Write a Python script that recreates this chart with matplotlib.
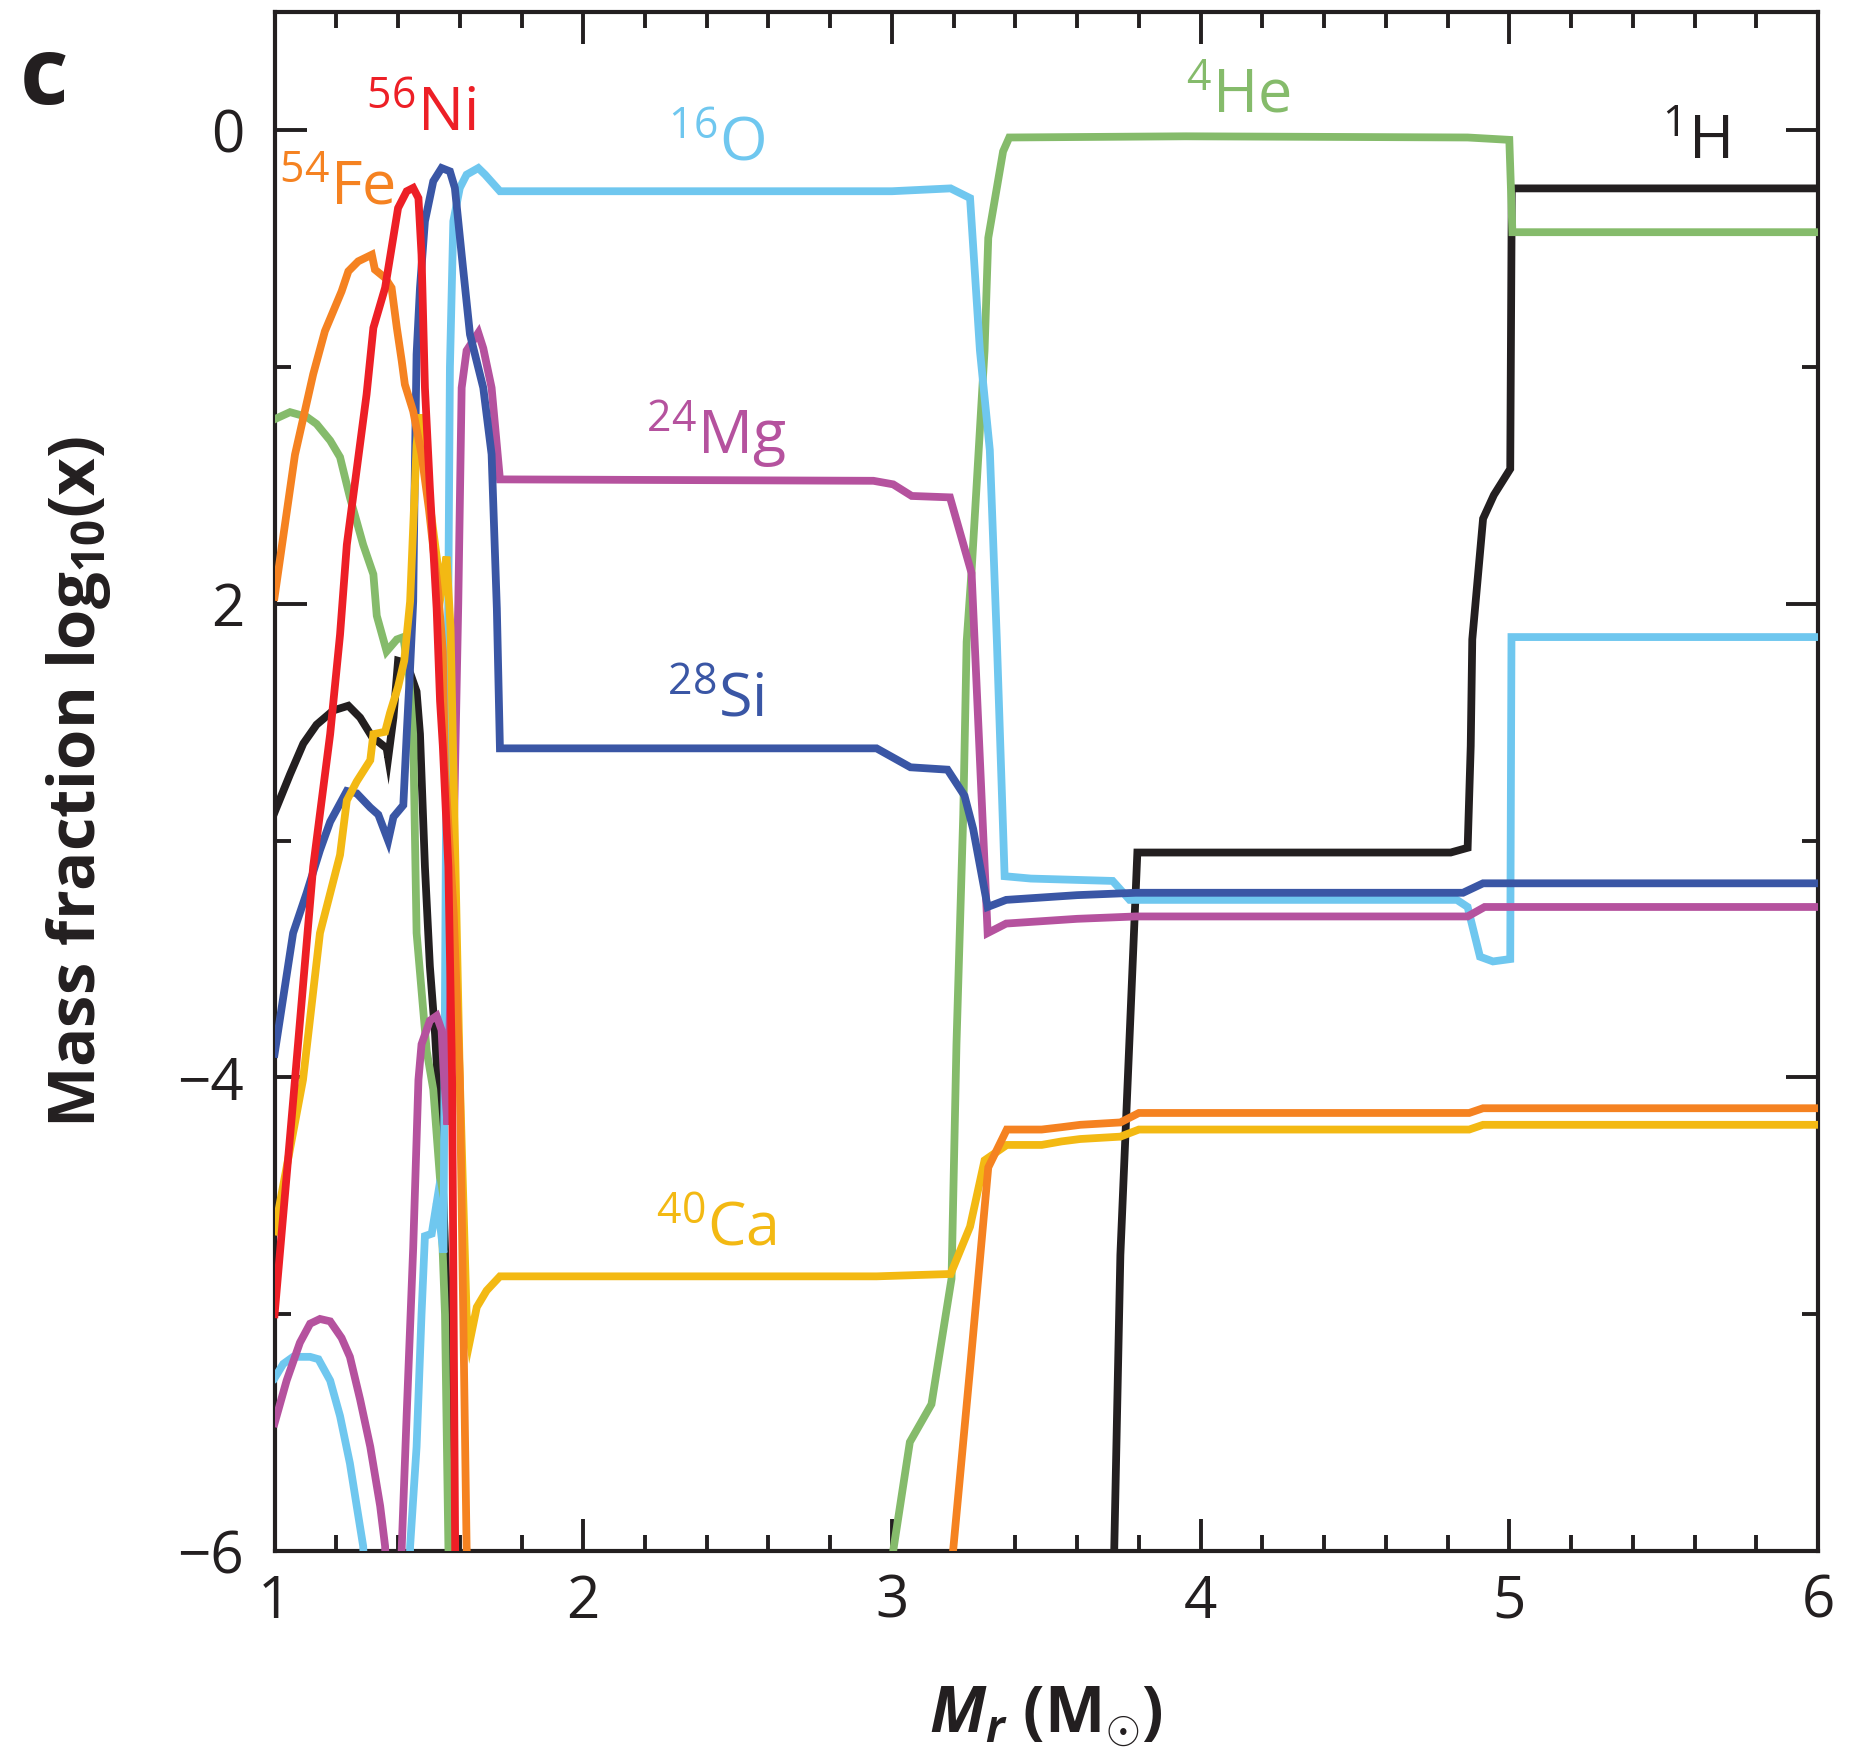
import numpy as np
import matplotlib
import matplotlib.pyplot as plt
from matplotlib.ticker import FixedLocator, MultipleLocator

matplotlib.use("Agg")

nan = np.nan

# Mass coordinate (Msun) and log10 mass fraction
h1_x = [1.0, 1.05, 1.093, 1.136, 1.19, 1.239, 1.277, 1.315, 1.363, 1.368, 1.385, 1.40,
        1.428, 1.46, 1.471, 1.487, 1.503, 1.52, 1.53, 1.541, 1.557, 1.568, 1.575, nan,
        3.715, 3.72, 3.74, 3.795, 4.81, 4.865, 4.875, 4.88, 4.915, 4.95, 5.003, 5.008, 6.0]
h1_y = [-2.88, -2.72, -2.59, -2.51, -2.45, -2.43, -2.48, -2.56, -2.61, -2.65, -2.48, -2.24,
        -2.25, -2.37, -2.55, -3.11, -3.53, -3.82, -4.05, -4.3, -4.9, -5.98, -6.3, nan,
        -6.3, -6.0, -4.75, -3.05, -3.05, -3.03, -2.6, -2.15, -1.64, -1.54, -1.43, -0.245, -0.245]

he4_x = [1.0, 1.05, 1.104, 1.136, 1.18, 1.212, 1.244, 1.287, 1.32, 1.331, 1.363, 1.396,
         1.417, 1.435, 1.449, 1.46, 1.493, 1.514, 1.536, 1.552, 1.563, 1.57, nan,
         3.0, 3.004, 3.058, 3.128, 3.193, 3.209, 3.231, 3.242, 3.258, 3.30, 3.312, 3.36,
         3.38, 3.95, 4.865, 5.0, 5.01, 6.0]
he4_y = [-1.22, -1.19, -1.21, -1.24, -1.31, -1.38, -1.55, -1.75, -1.875, -2.05, -2.20, -2.15,
         -2.14, -2.3, -2.55, -3.39, -3.89, -4.05, -4.43, -5.0, -5.98, -6.3, nan,
         -6.3, -6.0, -5.54, -5.38, -4.85, -3.86, -2.89, -2.16, -1.86, -0.93, -0.454, -0.089,
         -0.03, -0.025, -0.03, -0.04, -0.43, -0.43]

o16_x = [1.0, 1.028, 1.06, 1.115, 1.142, 1.18, 1.212, 1.244, 1.266, 1.287, 1.295, nan,
         1.435, 1.439, 1.46, 1.476, 1.487, 1.509, 1.525, 1.536, 1.547, 1.555, 1.563, 1.568,
         1.579, 1.60, 1.622, 1.66, 1.682, 1.73, 3.0, 3.19, 3.253, 3.285, 3.317, 3.34, 3.365,
         3.45, 3.715, 3.77, 4.83, 4.865, 4.905, 4.947, 5.003, 5.007, 6.0]
o16_y = [-5.27, -5.21, -5.18, -5.18, -5.19, -5.28, -5.43, -5.63, -5.81, -5.98, -6.3, nan,
         -6.3, -5.98, -5.56, -5.0, -4.67, -4.66, -4.53, -4.62, -4.74, -3.0, -1.93, -1.0,
         -0.384, -0.243, -0.187, -0.159, -0.187, -0.257, -0.257, -0.245, -0.286, -0.93, -1.35,
         -2.16, -3.15, -3.16, -3.17, -3.25, -3.25, -3.28, -3.49, -3.51, -3.50, -2.14, -2.14]

mg24_x = [1.0, 1.039, 1.082, 1.115, 1.147, 1.18, 1.217, 1.244, 1.277, 1.31, 1.342, 1.358,
          1.365, nan, 1.405, 1.412, 1.428, 1.449, 1.466, 1.476, 1.503, 1.525, 1.541, 1.547,
          1.56, 1.58, 1.595, 1.606, 1.622, 1.66, 1.676, 1.703, 1.73, 2.94, 3.004, 3.064,
          3.188, 3.258, 3.31, 3.37, 3.6, 3.79, 4.865, 4.92, 6.0]
mg24_y = [-5.46, -5.28, -5.12, -5.04, -5.02, -5.03, -5.10, -5.18, -5.36, -5.56, -5.81, -5.98,
          -6.3, nan, -6.3, -5.98, -5.42, -4.72, -4.01, -3.86, -3.76, -3.74, -3.80, -3.96,
          -4.2, -3.0, -2.0, -1.087, -0.93, -0.855, -0.92, -1.087, -1.474, -1.48, -1.495, -1.544,
          -1.55, -1.87, -3.39, -3.35, -3.33, -3.32, -3.32, -3.28, -3.28]

si28_x = [1.0, 1.06, 1.104, 1.147, 1.18, 1.234, 1.266, 1.31, 1.336, 1.368, 1.385, 1.417,
          1.428, 1.439, 1.449, 1.455, 1.46, 1.471, 1.487, 1.514, 1.541, 1.568, 1.584, 1.606,
          1.633, 1.676, 1.703, 1.72, 1.73, 2.95, 3.06, 3.18, 3.235, 3.263, 3.31, 3.37, 3.6,
          3.79, 4.85, 4.915, 6.0]
si28_y = [-3.9, -3.39, -3.22, -3.04, -2.92, -2.79, -2.80, -2.86, -2.89, -3.0, -2.90, -2.85,
          -2.55, -2.27, -1.99, -1.37, -0.946, -0.665, -0.384, -0.215, -0.159, -0.173, -0.243,
          -0.525, -0.862, -1.087, -1.368, -2.02, -2.61, -2.61, -2.69, -2.70, -2.81, -2.95,
          -3.28, -3.25, -3.23, -3.22, -3.22, -3.18, -3.18]

ca40_x = [1.0, 1.092, 1.147, 1.212, 1.234, 1.266, 1.31, 1.32, 1.358, 1.374, 1.40, 1.42,
          1.439, 1.46, 1.468, 1.50, 1.54, 1.557, 1.57, 1.60, 1.622, 1.633, 1.655, 1.687,
          1.73, 2.95, 3.19, 3.253, 3.30, 3.372, 3.485, 3.55, 3.61, 3.74, 3.80, 4.87, 4.915, 6.0]
ca40_y = [-4.65, -4.01, -3.39, -3.06, -2.83, -2.75, -2.66, -2.55, -2.54, -2.46, -2.35, -2.24,
          -1.99, -1.33, -1.2, -1.55, -1.95, -1.80, -2.1, -4.0, -5.0, -5.11, -4.97, -4.90,
          -4.84, -4.84, -4.83, -4.63, -4.35, -4.285, -4.285, -4.27, -4.26, -4.25, -4.22,
          -4.22, -4.20, -4.20]

fe54_x = [1.0, 1.066, 1.125, 1.163, 1.217, 1.239, 1.271, 1.315, 1.325, 1.358, 1.379, 1.396,
          1.412, 1.422, 1.449, 1.476, 1.50, 1.53, 1.545, 1.552, 1.58, 1.60, 1.622, 1.63, nan,
          3.19, 3.198, 3.253, 3.312, 3.372, 3.485, 3.55, 3.61, 3.74, 3.80, 4.87, 4.915, 6.0]
fe54_y = [-1.97, -1.37, -1.03, -0.848, -0.68, -0.595, -0.553, -0.525, -0.588, -0.623, -0.665,
          -0.834, -0.975, -1.073, -1.186, -1.368, -1.6, -1.95, -2.2, -2.7, -3.3, -4.0, -5.98,
          -6.3, nan, -6.3, -6.0, -5.23, -4.38, -4.22, -4.22, -4.21, -4.20, -4.19, -4.15, -4.15,
          -4.13, -4.13]

ni56_x = [1.0, 1.066, 1.125, 1.18, 1.212, 1.234, 1.298, 1.32, 1.358, 1.40, 1.428, 1.449,
          1.466, 1.476, 1.487, 1.503, 1.525, 1.536, 1.545, 1.563, 1.575, 1.585, 1.59]
ni56_y = [-5.0, -4.01, -3.11, -2.55, -2.13, -1.75, -1.115, -0.834, -0.665, -0.328, -0.257,
          -0.243, -0.286, -0.525, -1.087, -1.51, -2.02, -2.41, -2.6, -3.11, -4.0, -6.0, -6.3]

# species: (x, y, colour, label, label x, label baseline y), drawn bottom to top
species = [
    (h1_x, h1_y, "#231f20", r"$^{1}$H", 5.605, -0.12),
    (he4_x, he4_y, "#85bb6b", r"$^{4}$He", 4.121, 0.075),
    (o16_x, o16_y, "#6fc7ef", r"$^{16}$O", 2.43, -0.13),
    (mg24_x, mg24_y, "#b5529e", r"$^{24}$Mg", 2.43, -1.369),
    (si28_x, si28_y, "#3a56a5", r"$^{28}$Si", 2.43, -2.478),
    (ca40_x, ca40_y, "#f3b913", r"$^{40}$Ca", 2.43, -4.71),
    (fe54_x, fe54_y, "#f58221", r"$^{54}$Fe", 1.203, -0.315),
    (ni56_x, ni56_y, "#ed1f26", r"$^{56}$Ni", 1.475, -0.005),
]

ink = "#231f20"
plt.rcParams["font.family"] = ["Open Sans", "DejaVu Sans"]
plt.rcParams["mathtext.fontset"] = "custom"
plt.rcParams["mathtext.rm"] = "Open Sans"
plt.rcParams["mathtext.it"] = "Open Sans:italic"
plt.rcParams["mathtext.bf"] = "Open Sans:bold"
try:
    plt.rcParams["mathtext.bfit"] = "Open Sans:bold:italic"
except KeyError:
    pass

fig = plt.figure(figsize=(18.56, 17.54), dpi=100)
ax = fig.add_axes([0.14795, 0.11574, 0.83157, 0.87742])

for i, (xs, ys, col, lab, lx, ly) in enumerate(species):
    ax.plot(xs, ys, color=col, lw=5.6, solid_joinstyle="miter", zorder=2 + i)
    ax.text(lx, ly, lab, color=col, fontsize=44, ha="center", va="baseline", zorder=20)

ax.set_xlim(1, 6)
ax.set_ylim(-6, 0.5)

ax.xaxis.set_major_locator(FixedLocator([1, 2, 3, 4, 5, 6]))
ax.xaxis.set_minor_locator(MultipleLocator(0.2))
ax.yaxis.set_major_locator(FixedLocator([-6, -4, -2, 0]))
ax.yaxis.set_minor_locator(FixedLocator([-5, -3, -1]))
ax.set_yticklabels(["\u22126", "\u22124", "2", "0"])

ax.tick_params(which="both", direction="in", top=True, right=True, color=ink,
               width=2.8, labelsize=42, labelcolor=ink)
ax.tick_params(which="major", length=23, pad=16)
ax.tick_params(which="minor", length=11.5)
ax.tick_params(axis="y", which="major", pad=22)
for sp in ax.spines.values():
    sp.set_linewidth(3.0)
    sp.set_color(ink)

ax.set_ylabel(r"Mass fraction log$_{\mathbf{10}}$(x)", fontsize=47, fontweight="bold",
              color=ink, labelpad=46)
ax.set_xlabel(r"$\mathbfit{M_r}$ $\mathbf{(M_{\odot})}$", fontsize=46, color=ink,
              labelpad=38)

fig.text(20 / 1856, 1 - 104 / 1754, "c", fontsize=68, fontweight="bold", color=ink,
         ha="left", va="baseline")

fig.savefig("out.png", dpi=100)
